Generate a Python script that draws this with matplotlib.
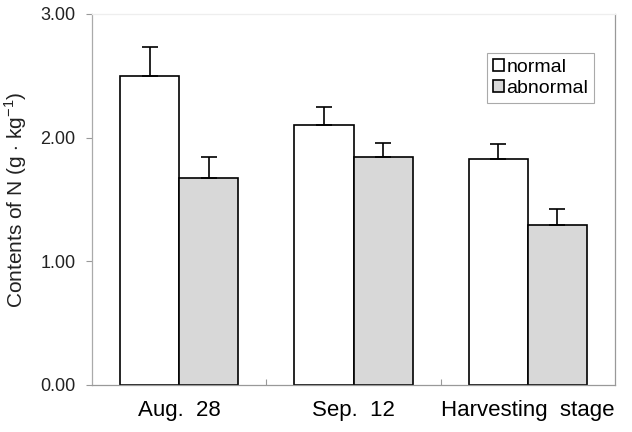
import numpy as np
import matplotlib
matplotlib.use("Agg")
import matplotlib.pyplot as plt
from matplotlib.ticker import FormatStrFormatter

plt.rcParams['font.family'] = ['Liberation Sans', 'DejaVu Sans']
plt.rcParams['mathtext.fontset'] = 'custom'
plt.rcParams['mathtext.rm'] = 'Liberation Sans'

# data
stages = ["Aug.  28", "Sep.  12", "Harvesting  stage"]
normal = [2.50, 2.10, 1.83]
normal_err = [0.23, 0.15, 0.12]
abnormal = [1.67, 1.84, 1.29]
abnormal_err = [0.17, 0.12, 0.13]
yticks = [0.0, 1.0, 2.0, 3.0]

fig = plt.figure(figsize=(6.32, 4.32), dpi=100)
ax = fig.add_axes([0.1456, 0.1088, 0.8275, 0.8588])

x = np.arange(len(stages))
w = 0.34
ax.bar(x - w/2, normal, w, color='white', edgecolor='black', linewidth=1.2,
       label='normal', zorder=2)
ax.bar(x + w/2, abnormal, w, color='#d8d8d8', edgecolor='black', linewidth=1.2,
       label='abnormal', zorder=2)
zeros = [0] * len(stages)
ax.errorbar(x - w/2, normal, yerr=[zeros, normal_err], fmt='none', ecolor='black',
            elinewidth=1.2, capsize=5.5, capthick=1.2, zorder=3)
ax.errorbar(x + w/2, abnormal, yerr=[zeros, abnormal_err], fmt='none', ecolor='black',
            elinewidth=1.2, capsize=5.5, capthick=1.2, zorder=3)

ax.set_xlim(-0.5, 2.5)
ax.set_ylim(0, 3.0)
ax.set_yticks(yticks)
ax.yaxis.set_major_formatter(FormatStrFormatter('%.2f'))
ax.tick_params(axis='y', direction='out', length=4, width=0.8, color='#999999',
               labelsize=13, pad=8, labelcolor='#222222')

ax.set_xticks(x)
ax.set_xticklabels(stages)
ax.tick_params(axis='x', which='major', length=0, labelsize=16, pad=11)
ax.set_xticks([0.5, 1.5], minor=True)
ax.tick_params(axis='x', which='minor', direction='in', length=4, width=0.8,
               color='#999999')

ax.set_ylabel('Contents of N (g $\\cdot$ kg$^{\\mathregular{-1}}$)', fontsize=15,
              labelpad=8, color='#222222')

for side, col in [('left', '#aaaaaa'), ('bottom', '#999999'),
                  ('right', '#999999'), ('top', '#eeeeee')]:
    ax.spines[side].set_color(col)
    ax.spines[side].set_linewidth(0.9)

leg = ax.legend(loc='upper right', bbox_to_anchor=(0.960, 0.895), fontsize=14,
                handlelength=0.6, handleheight=0.6, handletextpad=0.1,
                borderpad=0.3, labelspacing=0.22, fancybox=False,
                framealpha=1, edgecolor='#aaaaaa', borderaxespad=0)
leg.get_frame().set_linewidth(0.8)

fig.savefig('out.png', dpi=100)
